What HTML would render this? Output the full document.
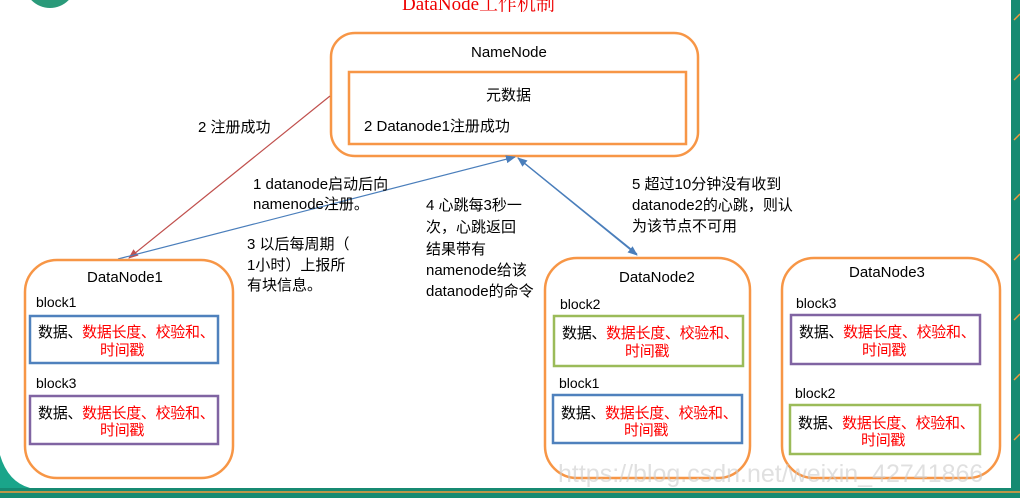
<!DOCTYPE html>
<html><head><meta charset="utf-8"><style>
html,body{margin:0;padding:0;background:#fff}
svg{display:block}
text{font-family:"Liberation Sans","Noto Sans CJK SC",sans-serif;font-size:15px;fill:#000}
.r{fill:#f00}
.s{font-size:14px}
.b{font-size:15px;letter-spacing:-0.3px}
</style></head><body>
<svg width="1020" height="498" viewBox="0 0 1020 498" xmlns="http://www.w3.org/2000/svg">
<defs>
<marker id="ab" markerWidth="10" markerHeight="10" refX="9" refY="5" orient="auto" markerUnits="userSpaceOnUse"><path d="M0,1 L10,5 L0,9 z" fill="#4a7ebb"/></marker>
<marker id="ar" markerWidth="10" markerHeight="10" refX="9" refY="5" orient="auto" markerUnits="userSpaceOnUse"><path d="M0,1 L10,5 L0,9 z" fill="#c0504d"/></marker>
</defs>
<rect x="0" y="488" width="1020" height="10" fill="#168a72"/>
<rect x="1011" y="0" width="9" height="498" fill="#168a72"/>
<path d="M0,455 Q8,482 30,488 L0,488 z" fill="#1aa58a"/>
<g stroke="#f39a3a" stroke-width="1.5">
<line x1="0" y1="492" x2="1020" y2="492"/>
<line x1="1014" y1="20" x2="1020" y2="14"/><line x1="1014" y1="80" x2="1020" y2="74"/><line x1="1014" y1="140" x2="1020" y2="134"/><line x1="1014" y1="200" x2="1020" y2="194"/><line x1="1014" y1="260" x2="1020" y2="254"/><line x1="1014" y1="320" x2="1020" y2="314"/><line x1="1014" y1="380" x2="1020" y2="374"/><line x1="1014" y1="440" x2="1020" y2="434"/>
</g>
<circle cx="50" cy="-18" r="26" fill="#2a9a7a"/>
<text x="402" y="10" style="font-family:'Liberation Serif','Noto Serif CJK SC',serif;font-size:19px;fill:#e00">DataNode工作机制</text>

<rect x="331" y="33" width="367" height="123" rx="24" fill="none" stroke="#f79646" stroke-width="2.5"/>
<text x="471" y="57">NameNode</text>
<rect x="349" y="72" width="337" height="72" fill="none" stroke="#f79646" stroke-width="2.5"/>
<text x="486" y="100">元数据</text>
<text x="364" y="131">2 Datanode1注册成功</text>

<line x1="330" y1="96" x2="129" y2="258" stroke="#c0504d" stroke-width="1.2" marker-end="url(#ar)"/>
<line x1="118" y1="259" x2="515" y2="157" stroke="#4a7ebb" stroke-width="1.2" marker-end="url(#ab)"/>
<line x1="637" y1="254" x2="518" y2="158" stroke="#4a7ebb" stroke-width="1.2" marker-end="url(#ab)"/>
<line x1="518" y1="158" x2="637" y2="255" stroke="#4a7ebb" stroke-width="1.2" marker-end="url(#ab)"/>

<text x="198" y="132">2 注册成功</text>
<text x="253" y="189">1 datanode启动后向</text>
<text x="253" y="209">namenode注册。</text>
<text x="247" y="249">3 以后每周期（</text>
<text x="247" y="270">1小时）上报所</text>
<text x="247" y="290">有块信息。</text>
<text x="426" y="210">4 心跳每3秒一</text>
<text x="426" y="232">次，心跳返回</text>
<text x="426" y="254">结果带有</text>
<text x="426" y="275">namenode给该</text>
<text x="426" y="296">datanode的命令</text>
<text x="632" y="189">5 超过10分钟没有收到</text>
<text x="632" y="210">datanode2的心跳，则认</text>
<text x="632" y="231">为该节点不可用</text>

<rect x="25" y="260" width="208" height="218" rx="32" fill="none" stroke="#f79646" stroke-width="2.5"/>
<text x="87" y="282">DataNode1</text>
<text x="36" y="307" class="s">block1</text>
<rect x="30" y="316" width="188" height="47" fill="none" stroke="#4f81bd" stroke-width="2.5"/>
<text x="38" y="337" class="b">数据、<tspan class="r">数据长度、校验和、</tspan></text>
<text x="100" y="355" class="b r">时间戳</text>
<text x="36" y="388" class="s">block3</text>
<rect x="30" y="396" width="188" height="48" fill="none" stroke="#8064a2" stroke-width="2.5"/>
<text x="38" y="418" class="b">数据、<tspan class="r">数据长度、校验和、</tspan></text>
<text x="100" y="435" class="b r">时间戳</text>

<rect x="545" y="258" width="205" height="220" rx="32" fill="none" stroke="#f79646" stroke-width="2.5"/>
<text x="619" y="282">DataNode2</text>
<text x="560" y="309" class="s">block2</text>
<rect x="554" y="316" width="189" height="50" fill="none" stroke="#9bbb59" stroke-width="2.5"/>
<text x="562" y="338" class="b">数据、<tspan class="r">数据长度、校验和、</tspan></text>
<text x="625" y="356" class="b r">时间戳</text>
<text x="559" y="388" class="s">block1</text>
<rect x="553" y="395" width="189" height="48" fill="none" stroke="#4f81bd" stroke-width="2.5"/>
<text x="561" y="418" class="b">数据、<tspan class="r">数据长度、校验和、</tspan></text>
<text x="624" y="435" class="b r">时间戳</text>

<rect x="782" y="258" width="218" height="220" rx="32" fill="none" stroke="#f79646" stroke-width="2.5"/>
<text x="849" y="277">DataNode3</text>
<text x="796" y="308" class="s">block3</text>
<rect x="791" y="315" width="189" height="49" fill="none" stroke="#8064a2" stroke-width="2.5"/>
<text x="799" y="337" class="b">数据、<tspan class="r">数据长度、校验和、</tspan></text>
<text x="862" y="355" class="b r">时间戳</text>
<text x="795" y="398" class="s">block2</text>
<rect x="790" y="405" width="190" height="49" fill="none" stroke="#9bbb59" stroke-width="2.5"/>
<text x="798" y="428" class="b">数据、<tspan class="r">数据长度、校验和、</tspan></text>
<text x="861" y="445" class="b r">时间戳</text>

<text x="558" y="482" style="font-size:25px;fill:#ccc;fill-opacity:0.6">https://blog.csdn.net/weixin_42741866</text>
</svg>
</body></html>
